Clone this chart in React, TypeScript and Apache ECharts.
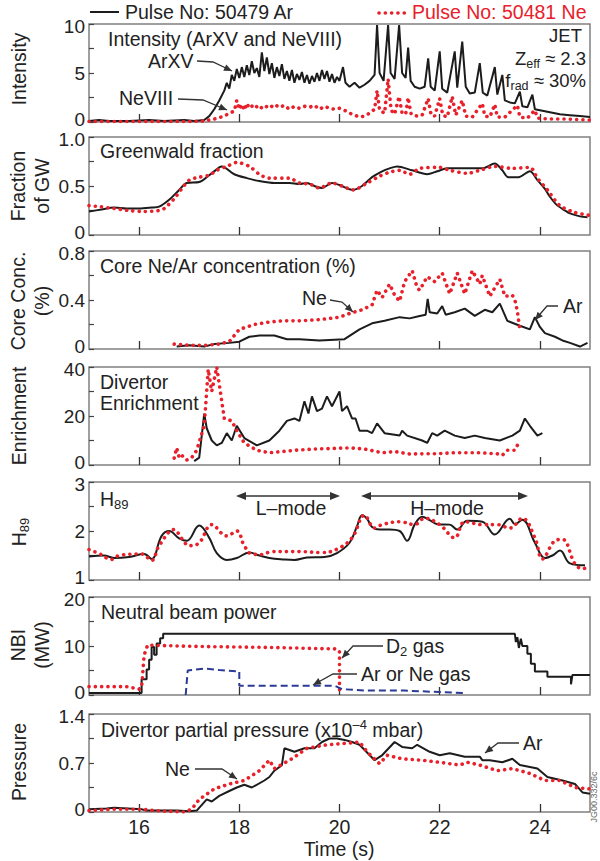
import React, { useEffect, useRef } from 'react';
import * as echarts from 'echarts';

const FONT = '"Liberation Sans", Arial, Helvetica, sans-serif';
const FS = 19.5;
const BLACK = '#1c1c1c';
const RED = '#e8202a';
const BLUE = '#2b3a96';
const TXT = '#222222';

// ---------------- data (time [s], value) ----------------
const intensityAr = [[15,0.1],[15.2,0.2],[15.4,0.1],[15.8,0.1],[16.2,0.2],[16.5,0.1],[16.9,0.2],[17.1,0.1],[17.3,0.2],[17.4,0.6],[17.5,1.3],[17.6,2.2],[17.7,3.2],[17.75,4.0],[17.8,3.4],[17.85,4.8],[17.9,4.2],[17.95,5.4],[18.0,4.5],[18.05,5.6],[18.1,4.6],[18.15,5.8],[18.2,4.8],[18.25,6.2],[18.3,5.0],[18.35,5.5],[18.4,4.6],[18.45,7.1],[18.5,5.2],[18.55,6.6],[18.6,4.9],[18.65,6.0],[18.7,4.5],[18.75,5.6],[18.8,4.7],[18.85,5.9],[18.9,4.4],[18.95,5.2],[19.0,4.2],[19.05,5.3],[19.1,4.0],[19.15,4.9],[19.2,4.3],[19.25,5.1],[19.3,4.0],[19.35,4.8],[19.4,3.9],[19.45,4.7],[19.5,4.1],[19.55,5.0],[19.6,4.2],[19.65,5.3],[19.7,4.4],[19.75,5.2],[19.8,4.1],[19.85,4.9],[19.9,4.0],[19.95,4.6],[20.0,4.2],[20.07,5.6],[20.12,4.0],[20.2,3.6],[20.3,4.0],[20.4,3.5],[20.5,3.8],[20.6,4.2],[20.7,4.8],[20.75,9.9],[20.8,5.0],[20.88,4.2],[20.97,9.9],[21.02,5.0],[21.1,4.4],[21.19,9.9],[21.25,5.0],[21.32,4.5],[21.37,7.6],[21.42,4.2],[21.5,3.6],[21.6,3.4],[21.7,3.6],[21.77,6.5],[21.82,3.6],[21.9,3.2],[22.0,7.2],[22.05,3.4],[22.15,3.0],[22.3,7.2],[22.35,3.5],[22.45,8.2],[22.52,3.6],[22.6,2.9],[22.7,3.0],[22.8,6.0],[22.86,3.0],[22.95,2.7],[23.1,5.6],[23.15,2.8],[23.25,4.8],[23.3,2.2],[23.4,2.0],[23.5,1.9],[23.6,3.1],[23.65,1.6],[23.75,1.5],[23.85,2.8],[23.9,1.3],[24.0,1.2],[24.2,1.0],[24.4,0.8],[24.6,0.7],[24.8,0.6],[25,0.5]];
const intensityNe = [[15,0.05],[16,0.05],[17,0.05],[17.3,0.1],[17.5,0.3],[17.7,0.6],[17.8,0.9],[17.9,1.1],[17.95,2.2],[18.0,1.3],[18.05,1.8],[18.1,1.2],[18.15,1.9],[18.2,1.4],[18.3,1.8],[18.4,1.3],[18.5,1.7],[18.6,1.4],[18.7,1.8],[18.8,1.5],[18.9,1.7],[19.0,1.3],[19.1,1.6],[19.2,1.4],[19.3,1.6],[19.4,1.5],[19.5,1.7],[19.6,1.3],[19.7,1.6],[19.8,1.4],[19.9,1.3],[20.0,1.4],[20.1,1.2],[20.2,0.9],[20.3,0.7],[20.4,0.5],[20.5,0.6],[20.6,0.9],[20.7,1.3],[20.75,3.2],[20.8,1.2],[20.9,0.9],[20.97,4.4],[21.03,1.2],[21.1,0.8],[21.19,2.6],[21.25,0.9],[21.32,0.8],[21.37,2.5],[21.43,0.8],[21.55,0.6],[21.65,0.7],[21.77,2.4],[21.83,0.7],[21.9,0.6],[22.0,2.4],[22.06,0.7],[22.15,0.5],[22.25,2.6],[22.32,0.7],[22.45,2.2],[22.52,0.6],[22.65,0.5],[22.85,1.9],[22.9,0.6],[23.0,0.5],[23.1,1.8],[23.15,0.5],[23.3,0.5],[23.55,1.7],[23.6,0.5],[23.75,0.4],[23.9,1.2],[23.95,0.4],[24.2,0.3],[24.5,0.3],[25,0.2]];

const greenwaldAr = [[15.0,0.24],[15.25,0.26],[15.5,0.28],[15.75,0.27],[16.0,0.27],[16.25,0.28],[16.4,0.29],[16.6,0.36],[16.8,0.46],[16.95,0.53],[17.2,0.54],[17.4,0.61],[17.6,0.69],[17.65,0.70],[17.9,0.62],[18.15,0.58],[18.4,0.55],[18.7,0.53],[19.0,0.53],[19.2,0.52],[19.35,0.53],[19.5,0.50],[19.65,0.48],[19.85,0.53],[20.0,0.51],[20.27,0.46],[20.45,0.50],[20.65,0.59],[20.85,0.65],[21.0,0.68],[21.15,0.70],[21.45,0.66],[21.75,0.62],[21.95,0.65],[22.15,0.68],[22.5,0.68],[22.85,0.68],[23.1,0.73],[23.25,0.66],[23.37,0.59],[23.57,0.59],[23.8,0.65],[23.95,0.56],[24.1,0.47],[24.2,0.39],[24.33,0.31],[24.5,0.25],[24.6,0.22],[24.8,0.19],[24.95,0.18]];
const greenwaldNe = [[15.0,0.30],[15.2,0.29],[15.5,0.27],[15.8,0.25],[16.1,0.24],[16.4,0.25],[16.5,0.27],[16.7,0.37],[16.85,0.47],[17.0,0.56],[17.2,0.59],[17.4,0.61],[17.55,0.66],[17.75,0.70],[17.95,0.74],[18.2,0.70],[18.4,0.62],[18.6,0.58],[19.0,0.58],[19.2,0.53],[19.4,0.52],[19.6,0.48],[19.85,0.53],[20.05,0.50],[20.27,0.46],[20.55,0.53],[20.8,0.60],[21.0,0.64],[21.2,0.66],[21.4,0.62],[21.6,0.68],[22.0,0.69],[22.2,0.66],[22.55,0.63],[22.8,0.66],[23.1,0.70],[23.45,0.68],[23.8,0.69],[23.95,0.58],[24.15,0.46],[24.4,0.30],[24.7,0.23],[25.0,0.20]];

const coreAr = [[16.75,0.02],[17.0,0.03],[17.3,0.02],[17.5,0.04],[17.8,0.05],[18.0,0.06],[18.2,0.10],[18.4,0.11],[18.7,0.11],[18.95,0.08],[19.2,0.08],[19.6,0.07],[20.1,0.08],[20.4,0.16],[20.65,0.21],[20.9,0.23],[21.2,0.26],[21.4,0.25],[21.6,0.27],[21.72,0.28],[21.76,0.41],[21.8,0.30],[21.95,0.29],[22.05,0.35],[22.12,0.28],[22.3,0.30],[22.5,0.33],[22.7,0.27],[22.9,0.32],[23.05,0.30],[23.2,0.37],[23.35,0.23],[23.6,0.19],[23.8,0.16],[23.9,0.26],[24.0,0.18],[24.1,0.13],[24.3,0.10],[24.45,0.07],[24.6,0.05],[24.8,0.02],[24.95,0.05]];
const coreNe = [[16.7,0.04],[17.0,0.03],[17.3,0.03],[17.6,0.04],[17.8,0.06],[18.0,0.16],[18.3,0.20],[18.6,0.22],[18.85,0.23],[19.2,0.23],[19.6,0.24],[20.0,0.26],[20.2,0.29],[20.45,0.32],[20.65,0.36],[20.75,0.48],[20.85,0.42],[21.0,0.53],[21.1,0.44],[21.2,0.39],[21.3,0.55],[21.45,0.64],[21.55,0.50],[21.6,0.48],[21.75,0.59],[21.9,0.55],[22.05,0.62],[22.2,0.45],[22.35,0.62],[22.5,0.45],[22.65,0.64],[22.8,0.53],[22.85,0.60],[23.0,0.43],[23.1,0.50],[23.2,0.57],[23.3,0.43],[23.45,0.44],[23.5,0.40],[23.55,0.31],[23.6,0.16]];

const enrichAr = [[17.1,1.6],[17.2,3],[17.3,21],[17.35,15],[17.45,10],[17.55,8],[17.65,9],[17.75,13],[17.85,10],[17.95,16],[18.1,11],[18.35,8],[18.6,10],[18.8,14],[18.95,18],[19.1,19],[19.2,18],[19.3,26],[19.38,21],[19.45,28],[19.55,22],[19.65,23],[19.75,28],[19.85,24],[20.0,30],[20.05,22],[20.15,24],[20.25,19],[20.32,19],[20.4,14],[20.55,14],[20.65,13],[20.75,17],[20.9,13],[21.2,12],[21.25,14],[21.35,12],[21.65,10],[21.75,9],[21.85,13],[21.95,12],[22.1,14],[22.3,12],[22.5,11],[22.7,12],[22.9,11],[23.2,10],[23.45,12],[23.6,14],[23.7,19],[23.8,16],[23.95,12],[24.05,13]];
const enrichNe = [[16.7,2.8],[16.75,7],[16.8,3],[16.85,4],[16.95,2],[17.05,3],[17.15,6],[17.3,16],[17.38,39],[17.45,30],[17.5,35],[17.55,40],[17.6,33],[17.65,26],[17.7,19],[17.85,18],[17.95,14],[18.1,9],[18.35,6],[18.6,5],[19.1,6],[19.5,6.5],[20.2,7],[20.5,6.5],[20.85,5],[21.1,5.5],[21.4,4.5],[21.9,4.6],[22.3,5],[22.8,5],[23.2,4.5],[23.25,4],[23.35,6],[23.5,6],[23.6,10]];

const h89Ar = [[15,1.48],[15.3,1.5],[15.5,1.45],[15.8,1.47],[16.1,1.53],[16.25,1.43],[16.45,1.9],[16.6,2.0],[16.8,1.85],[16.95,1.8],[17.2,2.11],[17.4,1.86],[17.55,1.55],[17.75,1.41],[17.95,1.45],[18.2,1.56],[18.4,1.5],[18.6,1.45],[18.9,1.42],[19.1,1.41],[19.35,1.46],[19.7,1.47],[19.95,1.55],[20.2,1.76],[20.35,2.1],[20.45,2.32],[20.55,2.25],[20.65,2.08],[20.8,2.03],[21.0,2.03],[21.2,2.0],[21.35,1.8],[21.5,2.13],[21.65,2.29],[21.8,2.22],[21.95,2.14],[22.2,2.13],[22.35,2.03],[22.55,2.21],[22.85,2.19],[23.1,1.93],[23.4,2.25],[23.5,2.14],[23.65,2.23],[23.9,1.76],[24.1,1.45],[24.25,1.5],[24.4,1.6],[24.6,1.34],[24.9,1.3]];
const h89Ne = [[15,1.62],[15.2,1.54],[15.45,1.42],[15.6,1.5],[16.05,1.53],[16.25,1.4],[16.4,1.7],[16.7,2.03],[16.85,1.85],[17.0,1.7],[17.2,1.76],[17.45,2.13],[17.75,1.9],[17.95,2.0],[18.1,1.7],[18.25,1.53],[18.45,1.52],[18.65,1.58],[19.2,1.58],[19.65,1.56],[19.95,1.63],[20.25,1.86],[20.5,2.32],[20.7,2.06],[20.85,2.13],[21.2,2.19],[21.5,2.13],[21.7,2.26],[22.0,2.13],[22.3,1.86],[22.5,2.19],[22.85,2.13],[23.15,2.13],[23.4,2.06],[23.65,2.26],[23.9,1.86],[24.05,1.43],[24.3,1.8],[24.45,1.83],[24.7,1.33],[24.85,1.23],[24.95,1.26]];

const nbiPower = [[15,0.4],[16.05,0.4],[16.05,3.2],[16.15,3.2],[16.15,5.2],[16.2,5.2],[16.2,7.2],[16.25,7.2],[16.25,9.8],[16.3,9.8],[16.3,8.2],[16.35,8.2],[16.35,10.5],[16.42,10.5],[16.42,11.6],[16.48,11.6],[16.48,12.5],[23.5,12.5],[23.52,10.8],[23.55,11.8],[23.58,9.6],[23.62,11.5],[23.65,10],[23.75,10],[23.75,8.4],[23.82,8.4],[23.82,6.4],[23.9,6.4],[23.9,4.8],[24.15,4.8],[24.15,3.7],[24.62,3.7],[24.62,2.2],[24.65,4.1],[25,4.1]];
const nbiD2 = [[15,1.7],[15.75,1.7],[16.0,1.2],[16.05,1.5],[16.1,8.1],[16.17,10.2],[16.4,10.1],[17.2,9.9],[18.6,9.7],[19.95,9.4],[20.0,8.8],[20.0,0]];
const nbiGas = [[16.93,0],[16.97,5.0],[17.3,5.4],[17.6,5.1],[18.0,4.8],[18.0,1.9],[19.9,1.9],[20.05,1.2],[20.5,0.9],[21.3,0.9],[22.0,0.6],[22.5,0.4]];

const pressAr = [[15,0.04],[15.35,0.05],[15.5,0.06],[16.05,0.04],[16.15,0.02],[16.75,0.02],[17.0,0.01],[17.15,0.02],[17.35,0.18],[17.45,0.15],[17.6,0.23],[17.8,0.3],[17.95,0.35],[18.1,0.39],[18.25,0.35],[18.5,0.45],[18.6,0.5],[18.7,0.59],[18.85,0.67],[18.9,0.91],[19.1,0.86],[19.3,0.91],[19.5,0.91],[19.65,1.0],[19.8,1.05],[19.95,1.05],[20.1,1.03],[20.25,1.0],[20.4,0.96],[20.55,0.85],[20.7,0.74],[20.85,0.81],[21.1,1.0],[21.25,0.93],[21.45,0.91],[21.55,0.96],[21.8,0.86],[22.0,0.81],[22.2,0.84],[22.5,0.79],[22.8,0.79],[22.85,0.74],[23.0,0.74],[23.25,0.71],[23.45,0.76],[23.6,0.67],[23.95,0.62],[24.15,0.5],[24.45,0.45],[24.7,0.4],[24.85,0.28],[25,0.26]];
const pressNe = [[15,0.02],[15.5,0.04],[16.05,0.04],[16.3,0.02],[16.9,0.0],[17.05,0.04],[17.2,0.18],[17.5,0.33],[17.8,0.4],[18.1,0.45],[18.4,0.59],[18.6,0.74],[18.7,0.62],[19.05,0.76],[19.35,0.91],[19.75,0.96],[20.1,0.98],[20.4,1.0],[20.55,0.86],[20.8,0.69],[20.95,0.81],[21.25,0.76],[21.65,0.74],[22.0,0.71],[22.4,0.67],[22.55,0.71],[22.8,0.67],[23.15,0.59],[23.45,0.62],[23.8,0.55],[24.1,0.45],[24.4,0.45],[24.7,0.35],[25,0.33]];

// axes
const xTickValues = [16, 18, 20, 22, 24];
const yMins = [0, 0, 0, 0, 1, 0, 0];
const yMaxs = [10, 1, 0.8, 40, 3, 20, 1.4];
const yIntervals = [2.5, 0.25, 0.2, 10, 0.5, 5, 0.35];
const yTickLabels = [
  ['0', '', '5', '', '10'],
  ['0', '', '0.5', '', '1.0'],
  ['0', '', '0.4', '', '0.8'],
  ['0', '', '20', '', '40'],
  ['1', '', '2', '', '3'],
  ['0', '', '10', '', '20'],
  ['0', '', '0.7', '', '1.4'],
];

// layout
const panelTops = [24, 137, 251, 367, 482, 597, 714];
const PANEL_H = 98;

type Kind = 'ar' | 'ne' | 'gas';
const panelSeries: { data: number[][]; kind: Kind; smooth?: number }[][] = [
  [{ data: intensityAr, kind: 'ar' }, { data: intensityNe, kind: 'ne' }],
  [{ data: greenwaldAr, kind: 'ar', smooth: 0.3 }, { data: greenwaldNe, kind: 'ne', smooth: 0.3 }],
  [{ data: coreAr, kind: 'ar' }, { data: coreNe, kind: 'ne' }],
  [{ data: enrichAr, kind: 'ar' }, { data: enrichNe, kind: 'ne' }],
  [{ data: h89Ar, kind: 'ar', smooth: 0.4 }, { data: h89Ne, kind: 'ne', smooth: 0.4 }],
  [{ data: nbiPower, kind: 'ar' }, { data: nbiD2, kind: 'ne' }, { data: nbiGas, kind: 'gas' }],
  [{ data: pressAr, kind: 'ar' }, { data: pressNe, kind: 'ne' }],
];

const lineStyles: Record<Kind, any> = {
  ar: { color: BLACK, width: 2 },
  ne: { color: RED, width: 3.6, type: [0.1, 6.2], cap: 'round' },
  gas: { color: BLUE, width: 2, type: [7, 4] },
};

const rich = {
  n: { fontSize: FS, fontFamily: FONT, color: TXT, lineHeight: 24 },
  sub: { fontSize: 13, fontFamily: FONT, color: TXT, lineHeight: 14, verticalAlign: 'bottom' },
  sup: { fontSize: 13, fontFamily: FONT, color: TXT, lineHeight: 14, verticalAlign: 'top' },
};
const richJet = {
  n: { fontSize: 18.5, fontFamily: FONT, color: TXT, lineHeight: 24 },
  sub: { fontSize: 12.5, fontFamily: FONT, color: TXT, lineHeight: 14, verticalAlign: 'bottom' },
};
const tickRich = {
  lo: { fontSize: 19, fontFamily: FONT, color: TXT, lineHeight: 14, padding: [0, 0, 5, 0] },
  mid: { fontSize: 19, fontFamily: FONT, color: TXT, lineHeight: 14 },
  hi: { fontSize: 19, fontFamily: FONT, color: TXT, lineHeight: 14, padding: [5, 0, 0, 0] },
};

function text(t: string, x: number, y: number, opts: any = {}) {
  return {
    type: 'text',
    x,
    y,
    rotation: opts.rotation || 0,
    z: 100,
    style: {
      text: t,
      fill: opts.color || TXT,
      fontSize: opts.fontSize || FS,
      fontFamily: FONT,
      textAlign: opts.align || 'left',
      textVerticalAlign: 'middle',
      lineHeight: opts.lineHeight || 24,
      rich: opts.rich,
    },
  };
}

function head(x1: number, y1: number, x2: number, y2: number, color = '#333', len = 8, half = 3.5) {
  const dx = x2 - x1, dy = y2 - y1;
  const L = Math.hypot(dx, dy);
  const ux = dx / L, uy = dy / L;
  const bx = x2 - ux * len, by = y2 - uy * len;
  const px = -uy, py = ux;
  return {
    type: 'polygon',
    z: 100,
    shape: { points: [[x2, y2], [bx + px * half, by + py * half], [bx - px * half, by - py * half]] },
    style: { fill: color },
  };
}

function pointer(pts: number[][], color = '#333') {
  const n = pts.length;
  return [
    { type: 'polyline', z: 100, shape: { points: pts }, style: { stroke: color, lineWidth: 1.3, fill: null } },
    head(pts[n - 2][0], pts[n - 2][1], pts[n - 1][0], pts[n - 1][1], color),
  ];
}

function doubleArrow(x1: number, x2: number, y: number, color = '#333') {
  return [
    { type: 'line', z: 100, shape: { x1: x1 + 4, y1: y, x2: x2 - 4, y2: y }, style: { stroke: color, lineWidth: 1.3 } },
    head(x2 - 10, y, x1, y, color, 10, 4),
    head(x1 + 10, y, x2, y, color, 10, 4),
  ];
}

function buildOption() {
  const grid = panelTops.map((top) => ({
    left: 89, right: 10, top, height: PANEL_H, show: true,
    borderColor: '#808080', borderWidth: 1.5, backgroundColor: 'transparent',
  }));
  const last = panelTops.length - 1;
  const xAxis = panelTops.map((_, i) => ({
    type: 'value', gridIndex: i, min: 15, max: 25, interval: 1,
    axisLine: { show: false }, splitLine: { show: false },
    axisTick: { show: true, inside: true, length: 8, customValues: xTickValues, lineStyle: { color: '#333', width: 1.3 } },
    axisLabel: { show: i === last, customValues: xTickValues, fontSize: FS, fontFamily: FONT, color: TXT, margin: 7, lineHeight: 15 },
  }));
  const yAxis = panelTops.map((_, i) => ({
    type: 'value', gridIndex: i, min: yMins[i], max: yMaxs[i], interval: yIntervals[i],
    axisLine: { show: false }, splitLine: { show: false },
    axisTick: { show: true, inside: true, length: 5, lineStyle: { color: '#444', width: 1.2 } },
    axisLabel: {
      fontSize: 19, fontFamily: FONT, color: TXT, margin: 4, lineHeight: 14, rich: tickRich,
      formatter: (v: number) => {
        const k = Math.round((v - yMins[i]) / yIntervals[i]);
        const s = yTickLabels[i][k] ?? '';
        if (!s) return '';
        const cls = k === 0 ? 'lo' : k === yTickLabels[i].length - 1 ? 'hi' : 'mid';
        return '{' + cls + '|' + s + '}';
      },
    },
  }));
  const series: any[] = [];
  panelSeries.forEach((list, i) => {
    list.forEach((s) => {
      series.push({
        type: 'line', xAxisIndex: i, yAxisIndex: i, data: s.data,
        symbol: 'none', showSymbol: false, smooth: s.smooth || false,
        lineStyle: lineStyles[s.kind], z: s.kind === 'ar' ? 3 : 4,
      });
    });
  });

  const g: any[] = [];
  // legend
  g.push({ type: 'line', z: 100, shape: { x1: 90, y1: 12, x2: 119, y2: 12 }, style: { stroke: BLACK, lineWidth: 2 } });
  g.push(text('Pulse No: 50479 Ar', 125, 12));
  g.push({ type: 'line', z: 100, shape: { x1: 379, y1: 13, x2: 406, y2: 13 }, style: { stroke: RED, lineWidth: 3.6, lineDash: [0.1, 6.2], lineCap: 'round' } });
  g.push(text('Pulse No: 50481 Ne', 412, 12, { color: RED }));

  // y names (rotated)
  const R = Math.PI / 2;
  g.push(text('Intensity', 19, 69, { rotation: R, align: 'center' }));
  g.push(text('Fraction\nof GW', 30, 186, { rotation: R, align: 'center' }));
  g.push(text('Core Conc.\n(%)', 30, 301, { rotation: R, align: 'center' }));
  g.push(text('Enrichment', 19, 416, { rotation: R, align: 'center' }));
  g.push(text('{n|H}{sub|89}', 19, 532, { rotation: R, align: 'center', rich }));
  g.push(text('NBI\n(MW)', 30, 645, { rotation: R, align: 'center' }));
  g.push(text('Pressure', 19, 762, { rotation: R, align: 'center' }));

  // panel 1
  g.push(text('Intensity (ArXV and NeVIII)', 108, 39));
  g.push(text('ArXV', 148, 61));
  g.push(...pointer([[197, 61], [213, 62], [232, 71]]));
  g.push(text('NeVIII', 119, 98));
  g.push(...pointer([[178, 99], [203, 100], [227, 110]]));
  g.push(text('JET', 582, 35, { align: 'right', fontSize: 18.5 }));
  g.push(text('{n|Z}{sub|eff}{n| ≈ 2.3}', 586, 58, { align: 'right', rich: richJet }));
  g.push(text('{n|f}{sub|rad}{n| ≈ 30%}', 586, 80, { align: 'right', rich: richJet }));

  // panel 2
  g.push(text('Greenwald fraction', 100, 151));

  // panel 3
  g.push(text('Core Ne/Ar concentration (%)', 100, 266));
  g.push(text('Ne', 302, 298));
  g.push(...pointer([[330, 300], [342, 302], [353, 312]]));
  g.push(text('Ar', 563, 306));
  g.push(...pointer([[558, 306], [547, 306], [535, 320]]));

  // panel 4
  g.push(text('Divertor', 100, 382));
  g.push(text('Enrichment', 100, 403));

  // panel 5
  g.push(text('{n|H}{sub|89}', 100, 499, { rich }));
  g.push(...doubleArrow(236, 340, 496));
  g.push(...doubleArrow(361, 528, 496));
  g.push(text('L–mode', 291, 508, { align: 'center' }));
  g.push(text('H–mode', 447, 508, { align: 'center' }));

  // panel 6
  g.push(text('Neutral beam power', 101, 612));
  g.push(text('{n|D}{sub|2}{n| gas}', 386, 646, { rich }));
  g.push(...pointer([[383, 646], [353, 646], [342, 658]]));
  g.push(text('Ar or Ne gas', 361, 674));
  g.push(...pointer([[357, 674], [333, 674], [313, 685]]));

  // panel 7
  g.push(text('{n|Divertor partial pressure (x10}{sup|–4}{n| mbar)}', 101, 730, { rich }));
  g.push(text('Ne', 165, 769));
  g.push(...pointer([[195, 769], [222, 769], [237, 779]]));
  g.push(text('Ar', 523, 743));
  g.push(...pointer([[519, 743], [498, 743], [485, 753]]));

  // x title
  g.push(text('Time (s)', 339, 849, { align: 'center' }));
  g.push(text('JG00.332/6c', 594, 797, { rotation: R, align: 'center', fontSize: 9, color: '#666', lineHeight: 10 }));

  return { animation: false, backgroundColor: '#ffffff', grid, xAxis, yAxis, series, graphic: g };
}

export default function App() {
  const ref = useRef<HTMLDivElement>(null);
  useEffect(() => {
    if (!ref.current) return;
    const chart = echarts.init(ref.current, null, { renderer: 'svg', width: 600, height: 861 });
    chart.setOption(buildOption() as any);
    return () => chart.dispose();
  }, []);
  return (
    <div
      ref={ref}
      style={{ position: 'absolute', left: 0, top: 0, width: 600, height: 861, background: '#fff' }}
    />
  );
}
